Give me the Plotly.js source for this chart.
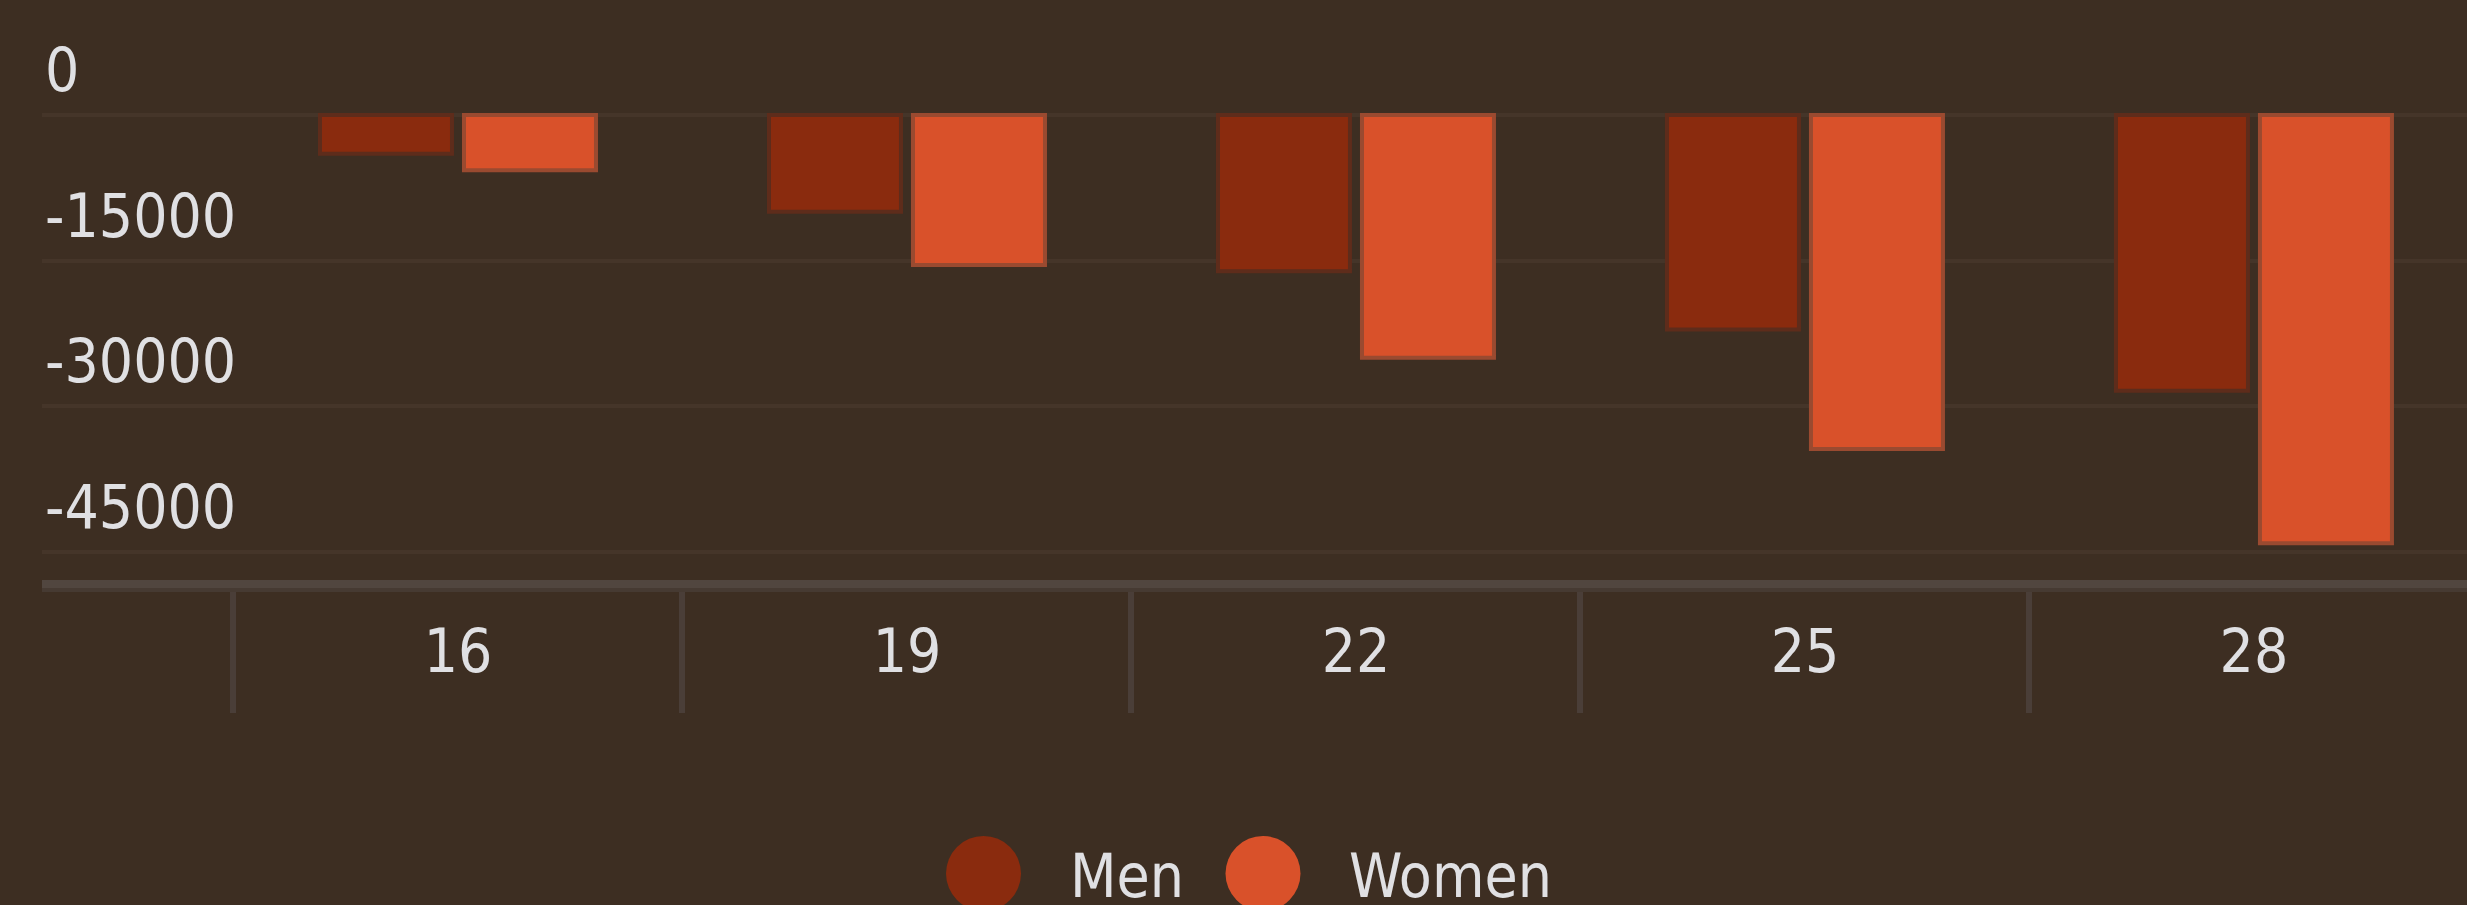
<!DOCTYPE html>
<html>
<head>
<meta charset="utf-8">
<script src="https://cdn.plot.ly/plotly-3.0.1.min.js"></script>
<style>
  html, body { margin: 0; padding: 0; background: #3d2e22; }
  #chart { width: 2467px; height: 905px; }
</style>
</head>
<body>
<div id="chart"></div>
<script>
// ---- data ----
const categories = ['16', '19', '22', '25', '28'];
const seriesNames = ['Men', 'Women'];
const menValues = [-4000, -9950, -16100, -22100, -28400];
const womenValues = [-5700, -15450, -25000, -34400, -44100];
const yTickValues = [0, -15000, -30000, -45000];
const yTickLabels = ['0', '-15000', '-30000', '-45000'];

// ---- styles ----
const W = 2467, H = 905;
const M = { l: 42, r: 0, t: 0, b: 325 };
const plotW = W - M.l - M.r, plotH = H - M.t - M.b;
const bg = '#3d2e22';
const fillColors = ['#8a2b0e', '#d9512a'];
const lineColors = ['#5e2c1b', '#9a4a30'];
const labelColor = '#e0e0e3';
const fontFamily = "'DejaVu Sans Condensed', 'DejaVu Sans', sans-serif";

const seriesValues = [menValues, womenValues];
const traces = seriesNames.map((name, i) => ({
  type: 'bar',
  name: name,
  x: categories,
  y: seriesValues[i],
  marker: { color: fillColors[i], line: { color: lineColors[i], width: 4 } },
  showlegend: false,
  hoverinfo: 'x+y+name'
}));

// custom legend (large circle symbols), built from series names / colors
const legendCenters = [983.5, 1263];   // px, circle centres
const legendCy = 873.5;                // px
const legendR = 37.5;
const textOffset = 84;
const px2paperX = px => (px - M.l) / plotW;
const px2paperY = py => (M.t + plotH - py) / plotH;

const shapes = seriesNames.map((name, i) => ({
  type: 'circle', xref: 'paper', yref: 'paper',
  xsizemode: 'pixel', ysizemode: 'pixel',
  xanchor: px2paperX(legendCenters[i]), yanchor: px2paperY(legendCy),
  x0: -legendR, x1: legendR, y0: -legendR, y1: legendR,
  fillcolor: fillColors[i], line: { width: 0 }
}));
// darker lower edge of the x axis line
shapes.push({
  type: 'line', xref: 'paper', yref: 'paper',
  ysizemode: 'pixel', yanchor: 0,
  x0: 0, x1: 1, y0: -10, y1: -10,
  line: { color: '#463a32', width: 4 }
});
const annotations = seriesNames.map((name, i) => ({
  text: name, showarrow: false,
  xref: 'paper', yref: 'paper',
  x: px2paperX(legendCenters[i] + textOffset), xanchor: 'left',
  y: px2paperY(876), yanchor: 'middle',
  font: { family: fontFamily, size: 60, color: labelColor }
}));

const layout = {
  width: W, height: H, autosize: false,
  margin: M,
  paper_bgcolor: bg, plot_bgcolor: bg,
  barmode: 'group', bargap: 0.3586, bargroupgap: 0.0833,
  showlegend: false,
  font: { family: fontFamily, size: 60, color: labelColor },
  xaxis: {
    type: 'category',
    range: [-0.9265, 4.4745],
    tickson: 'boundaries',
    ticks: 'outside', ticklen: 125, tickwidth: 6, tickcolor: '#4a3e38',
    showline: true, linecolor: '#51463f', linewidth: 8,
    showgrid: false, zeroline: false,
    tickfont: { family: fontFamily, size: 60, color: labelColor },
    ticklabelstandoff: 12
  },
  yaxis: {
    range: [-47883, 11842],
    tickvals: yTickValues, ticktext: yTickLabels,
    ticks: '', ticklen: 0,
    ticklabelposition: 'inside', ticklabeloverflow: 'allow',
    ticklabelshift: -45,
    showline: false, zeroline: false,
    showgrid: true, gridcolor: '#453529', gridwidth: 4,
    tickfont: { family: fontFamily, size: 60, color: labelColor }
  },
  shapes: shapes,
  annotations: annotations
};

Plotly.newPlot('chart', traces, layout, { displayModeBar: false, staticPlot: true });
</script>
</body>
</html>
